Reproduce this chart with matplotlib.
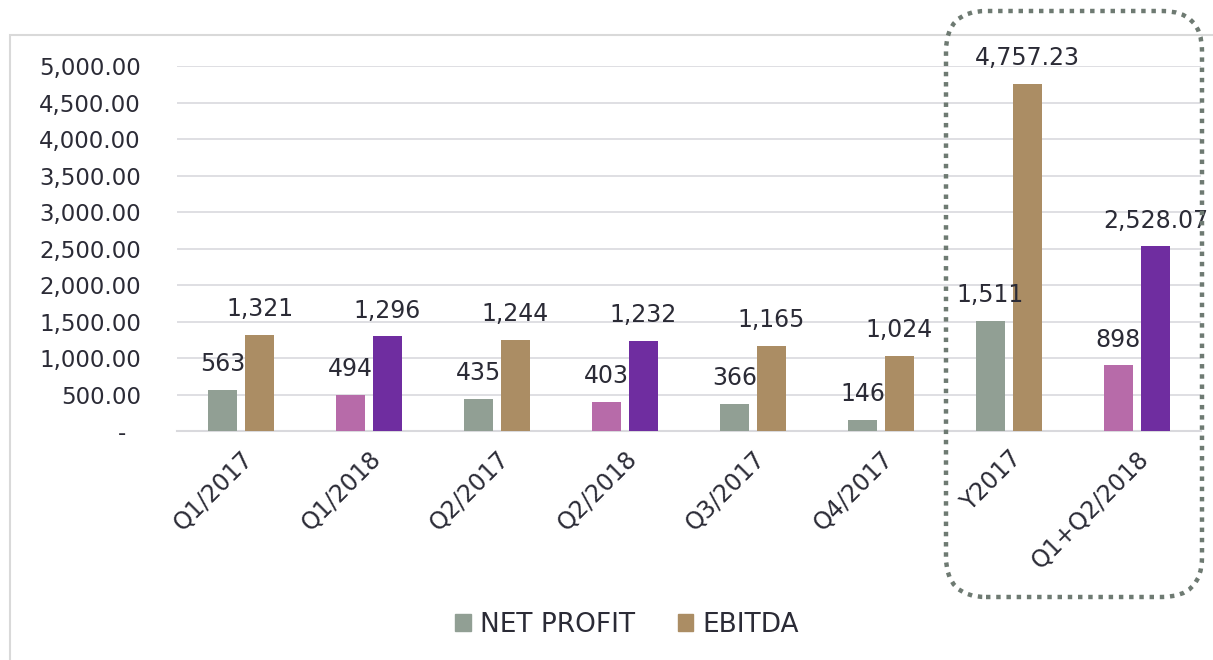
import numpy as np
import matplotlib.pyplot as plt
from matplotlib.patches import Patch, Rectangle, FancyBboxPatch

# data
categories = ['Q1/2017', 'Q1/2018', 'Q2/2017', 'Q2/2018', 'Q3/2017', 'Q4/2017', 'Y2017', 'Q1+Q2/2018']
net_profit = [563, 494, 435, 403, 366, 146, 1511, 898]
ebitda = [1321, 1296, 1244, 1232, 1165, 1024, 4757.23, 2528.07]
ebitda_decimals = [0, 0, 0, 0, 0, 0, 2, 2]
is_2018 = [False, True, False, True, False, False, False, True]
yticks = [0, 500, 1000, 1500, 2000, 2500, 3000, 3500, 4000, 4500, 5000]

c_net, c_ebitda = '#919F94', '#AB8D64'
c_net18, c_ebitda18 = '#B76BA9', '#6F2DA0'
txt = '#2B2B36'

plt.rcParams['font.family'] = 'DejaVu Sans'

fig = plt.figure(figsize=(12.13, 6.6), dpi=100)
ax = fig.add_axes([177/1213, 1 - 431/660, (1201 - 177)/1213, (431 - 66)/660])

# outer chart frame (light gray)
fig.patches.append(Rectangle((10/1213, -0.1), 1.2, 1 - 35/660 + 0.1, transform=fig.transFigure,
                             fill=False, edgecolor='#D9D9D9', linewidth=1.5, zorder=0))

x = np.arange(len(categories))
w = 0.226
off = 0.145
net_cols = [c_net18 if f else c_net for f in is_2018]
eb_cols = [c_ebitda18 if f else c_ebitda for f in is_2018]
ax.bar(x - off, net_profit, w, color=net_cols, zorder=3)
ax.bar(x + off, ebitda, w, color=eb_cols, zorder=3)

for xi, v in zip(x, net_profit):
    ax.annotate(f'{v:,.0f}', (xi - off, v), xytext=(0, 10), textcoords='offset points',
                ha='center', va='bottom', fontsize=17, color=txt)
for xi, v, d in zip(x, ebitda, ebitda_decimals):
    ax.annotate(f'{v:,.{d}f}', (xi + off, v), xytext=(0, 10), textcoords='offset points',
                ha='center', va='bottom', fontsize=17, color=txt, annotation_clip=False)

ax.set_xlim(-0.5, len(categories) - 0.5)
ax.set_ylim(0, 5000)
ax.set_yticks(yticks)
ax.set_yticklabels(['-  '] + [f'{t:,.2f}' for t in yticks[1:]], fontsize=16.5, color=txt)
ax.tick_params(axis='y', length=0, pad=26)
ax.set_xticks(x)
ax.set_xticklabels(categories, rotation=45, ha='right', va='top', rotation_mode='anchor',
                   fontsize=17, color=txt)
ax.tick_params(axis='x', length=0, pad=11)
ax.grid(axis='y', color='#DCDCE0', linewidth=1.3, zorder=0)
for s in ['top', 'right', 'left']:
    ax.spines[s].set_visible(False)
ax.spines['bottom'].set_color('#D9D9DD')
ax.spines['bottom'].set_linewidth(1.5)

# dotted highlight box round the yearly figures
box = FancyBboxPatch((9.46, 0.63), 2.56, 5.86, boxstyle='round,pad=0,rounding_size=0.4',
                     transform=fig.dpi_scale_trans, fill=False, edgecolor='#6E7A72',
                     linewidth=3.2, linestyle=(0, (1, 1.3)), zorder=5)
fig.patches.append(box)

handles = [Patch(color=c_net, label='NET PROFIT'), Patch(color=c_ebitda, label='EBITDA')]
leg = fig.legend(handles=handles, loc='center', bbox_to_anchor=(0.517, 1 - 625/660), ncol=2,
                 frameon=False, fontsize=19, handlelength=0.6, handleheight=0.6,
                 handletextpad=0.35, columnspacing=1.6)
for t in leg.get_texts():
    t.set_color(txt)

fig.savefig('out.png', dpi=100)
